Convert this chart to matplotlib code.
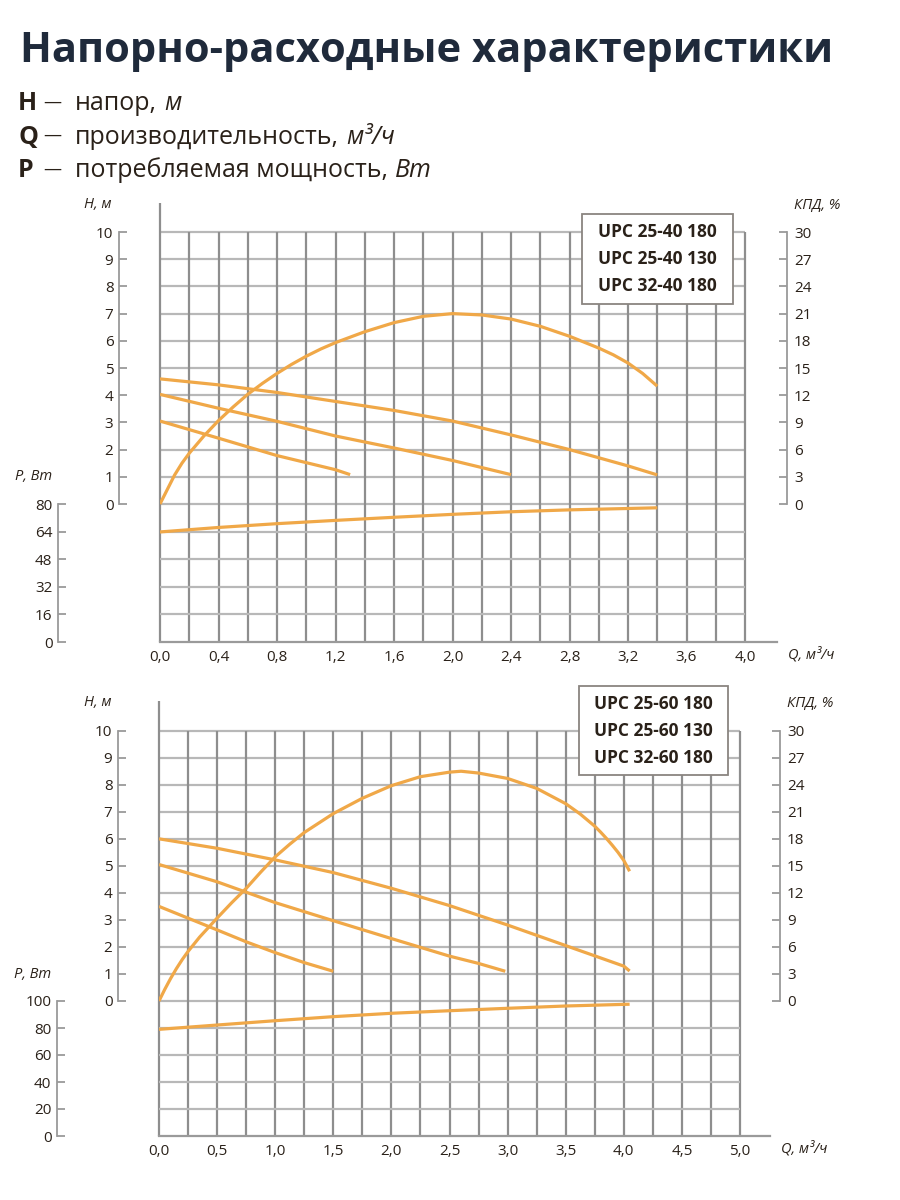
# -*- coding: utf-8 -*-
import numpy as np
import matplotlib
matplotlib.use('Agg')
import matplotlib.pyplot as plt
from matplotlib.patches import Rectangle

plt.rcParams['font.family'] = ['Open Sans', 'DejaVu Sans']

# ---------- data ----------
# chart 1: UPC 25-40 / 32-40
top_models = ['UPC 25-40 180', 'UPC 25-40 130', 'UPC 32-40 180']
top_q_h1 = [0.0, 0.4, 0.8, 1.2, 1.6, 2.0, 2.4, 2.8, 3.2, 3.4]
top_h1 = [4.6, 4.38, 4.1, 3.77, 3.44, 3.05, 2.54, 2.0, 1.4, 1.07]
top_q_h2 = [0.0, 0.4, 0.8, 1.2, 1.6, 2.0, 2.4]
top_h2 = [4.03, 3.52, 3.04, 2.5, 2.06, 1.6, 1.08]
top_q_h3 = [0.0, 0.4, 0.8, 1.2, 1.3]
top_h3 = [3.05, 2.42, 1.78, 1.26, 1.08]
top_q_kpd = [0.0, 0.05, 0.1, 0.15, 0.2, 0.3, 0.4, 0.5, 0.6, 0.7, 0.8, 0.9, 1.0, 1.1, 1.2,
             1.4, 1.6, 1.8, 2.0, 2.2, 2.4, 2.6, 2.8, 3.0, 3.1, 3.2, 3.3, 3.4]
top_kpd = [0.0, 1.6, 3.2, 4.5, 5.6, 7.5, 9.2, 10.7, 12.1, 13.3, 14.4, 15.4, 16.3, 17.1, 17.8,
           19.0, 20.0, 20.7, 21.0, 20.85, 20.4, 19.6, 18.5, 17.2, 16.45, 15.55, 14.4, 13.0]
top_q_p = [0.0, 0.4, 0.8, 1.2, 1.6, 2.0, 2.4, 2.8, 3.2, 3.4]
top_p = [63.8, 66.4, 68.6, 70.5, 72.3, 74.0, 75.5, 76.6, 77.4, 77.8]

# chart 2: UPC 25-60 / 32-60
bot_models = ['UPC 25-60 180', 'UPC 25-60 130', 'UPC 32-60 180']
bot_q_h1 = [0.0, 0.5, 1.0, 1.5, 2.0, 2.5, 3.0, 3.5, 4.0, 4.05]
bot_h1 = [6.0, 5.65, 5.22, 4.75, 4.17, 3.53, 2.81, 2.05, 1.29, 1.11]
bot_q_h2 = [0.0, 0.5, 1.0, 1.5, 2.0, 2.5, 2.75, 2.98]
bot_h2 = [5.05, 4.41, 3.64, 2.97, 2.31, 1.66, 1.39, 1.1]
bot_q_h3 = [0.0, 0.5, 0.75, 1.0, 1.25, 1.5]
bot_h3 = [3.5, 2.63, 2.19, 1.79, 1.42, 1.1]
bot_q_kpd = [0.0, 0.05, 0.1, 0.15, 0.2, 0.25, 0.35, 0.5, 0.625, 0.75, 0.875, 1.0, 1.125, 1.25,
             1.5, 1.75, 2.0, 2.25, 2.5, 2.6, 2.75, 3.0, 3.25, 3.5, 3.625, 3.75, 3.8, 3.85,
             3.9, 3.95, 4.0, 4.05]
bot_kpd = [0.0, 1.3, 2.5, 3.6, 4.6, 5.5, 7.1, 9.2, 10.9, 12.5, 14.3, 16.0, 17.4, 18.7,
           20.8, 22.5, 23.9, 24.9, 25.4, 25.5, 25.3, 24.7, 23.6, 21.9, 20.75, 19.4, 18.75, 18.05,
           17.3, 16.5, 15.6, 14.4]
bot_q_p = [0.0, 0.5, 1.0, 1.5, 2.0, 2.5, 3.0, 3.5, 4.0, 4.05]
bot_p = [79.0, 82.2, 85.4, 88.4, 90.9, 92.8, 94.6, 96.3, 97.5, 97.6]

# symbols legend under the title
sym_rows = [('H', 'напор,', 'м'),
            ('Q', 'производительность,', 'м³/ч'),
            ('P', 'потребляемая мощность,', 'Вт')]

# ---------- style ----------
W, H = 900, 1200
CURVE = '#f0a848'
VGRID = '#8e8e8e'
HGRID = '#b8b8b8'
SPINE = '#9a9a9a'
TXT = '#2a2119'
NAVY = '#1f2a3b'
PT = 0.72  # px -> pt at dpi 100

fig = plt.figure(figsize=(9, 12), dpi=100)
renderer = fig.canvas.get_renderer()


def fx(x):
    return x / W


def fy(y):
    return 1 - y / H


def chain(x, y, parts):
    # put pieces of text one after another on the same baseline
    for s, kw, gap in parts:
        t = fig.text(fx(x), fy(y), s, va='baseline', ha='left', color=TXT, **kw)
        bb = t.get_window_extent(renderer=renderer)
        x = x + bb.width + gap


# title + legend of symbols
fig.text(fx(20), fy(62), 'Напорно-расходные характеристики', fontsize=30,
         fontweight='bold', color=NAVY, va='baseline')
FS = 18
for i, (sym, desc, unit) in enumerate(sym_rows):
    y = 110 + 33.5 * i
    fig.text(fx(18), fy(y), sym, fontsize=FS, fontweight='bold', color=TXT, va='baseline')
    fig.text(fx(43), fy(y - 2.5), '—', fontsize=13, color=TXT, va='baseline')
    chain(75, y, [(desc, dict(fontsize=FS), 7), (unit, dict(fontsize=FS, style='italic'), 0)])


def draw_chart(g, q_max, q_step, q_lab_step, p_max, heads, kq, kv, pq, pv, models):
    x0, xend, ppq = g['x0'], g['xend'], g['ppq']
    yh0, pph, ytop, ybot = g['yh0'], g['pph'], g['ytop'], g['ybot']

    ax = fig.add_axes([fx(x0), fy(ybot), (xend - x0) / W, (ybot - ytop) / H])
    xlim = (0, (xend - x0) / ppq)
    ylim = ((yh0 - ybot) / pph, (yh0 - ytop) / pph)
    ax.set_xlim(xlim)
    ax.set_ylim(ylim)
    ax.patch.set_alpha(0)

    # power and efficiency share the grid
    axp = ax.twinx()
    axp.set_ylim(0, p_max * (ybot - ytop) / (ybot - yh0))
    axk = ax.twinx()
    axk.set_ylim(ylim[0] * 3, ylim[1] * 3)

    # grid
    qs = np.arange(0, q_max + 1e-9, q_step)
    ax.vlines(qs[1:], ylim[0], 10, color=VGRID, lw=1.6, zorder=1)
    ax.vlines(0, ylim[0], ylim[1], color=VGRID, lw=1.6, zorder=1, clip_on=False)
    ax.hlines(np.arange(0, 11), 0, q_max, color=HGRID, lw=1.6, zorder=0.9)
    axp.hlines(np.arange(p_max / 5, p_max, p_max / 5), 0, q_max, color=HGRID, lw=1.6, zorder=0.9)

    # curves
    st = dict(color=CURVE, lw=2.3, zorder=3, solid_capstyle='butt', solid_joinstyle='round')
    for q, h in heads:
        ax.plot(q, h, **st)
    axk.plot(kq, kv, **st)
    axp.plot(pq, pv, **st)

    # H axis
    for s in ['top', 'right']:
        ax.spines[s].set_visible(False)
    ax.spines['left'].set_position(('axes', (g['hx'] - x0) / (xend - x0)))
    ax.spines['left'].set_bounds(0, 10)
    ax.spines['left'].set_color(SPINE)
    ax.spines['left'].set_linewidth(1.3)
    ax.set_yticks(range(0, 11))
    ax.tick_params(axis='y', direction='in', length=8 * PT, width=1.3, color=SPINE,
                   labelcolor=TXT, labelsize=11, pad=4)
    ax.spines['bottom'].set_color(SPINE)
    ax.spines['bottom'].set_linewidth(1.6)
    ax.spines['bottom'].set_bounds(xlim)
    labs = np.arange(0, q_max + 1e-9, q_lab_step)
    ax.set_xticks(labs)
    ax.set_xticklabels([('%.1f' % v).replace('.', ',') for v in labs])
    ax.tick_params(axis='x', length=0, labelcolor=TXT, labelsize=11, pad=6)

    # P axis
    for s in ['top', 'right', 'bottom']:
        axp.spines[s].set_visible(False)
    axp.spines['left'].set_visible(True)
    axp.spines['left'].set_position(('axes', (g['px'] - x0) / (xend - x0)))
    axp.spines['left'].set_bounds(0, p_max)
    axp.spines['left'].set_color(SPINE)
    axp.spines['left'].set_linewidth(1.3)
    axp.yaxis.set_ticks_position('left')
    axp.set_yticks(np.arange(0, p_max + 1, p_max / 5))
    axp.set_yticklabels(['%d' % v for v in np.arange(0, p_max + 1, p_max / 5)])
    axp.tick_params(axis='y', direction='in', length=8 * PT, width=1.3, color=SPINE,
                    labelcolor=TXT, labelsize=11, pad=4)

    # efficiency axis
    for s in ['top', 'left', 'bottom']:
        axk.spines[s].set_visible(False)
    axk.spines['right'].set_position(('axes', (g['kx'] - x0) / (xend - x0)))
    axk.spines['right'].set_bounds(0, 30)
    axk.spines['right'].set_color(SPINE)
    axk.spines['right'].set_linewidth(1.3)
    axk.set_yticks(range(0, 31, 3))
    axk.tick_params(axis='y', direction='in', length=8 * PT, width=1.3, color=SPINE,
                    labelcolor=TXT, labelsize=11, pad=5)

    # axis names
    fig.text(fx(g['hx'] - 7), fy(ytop + 1), 'H, м', ha='right', va='center',
             fontsize=10.5, style='italic', color=TXT)
    fig.text(fx(g['px'] - 6), fy(yh0 - 27), 'P, Вт', ha='right', va='center',
             fontsize=10.5, style='italic', color=TXT)
    fig.text(fx(g['kx'] + 7), fy(ytop + 2), 'КПД, %', ha='left', va='center',
             fontsize=10.5, style='italic', color=TXT)
    fig.text(fx(xend + 11), fy(ybot + 13), 'Q, м³/ч', ha='left', va='center',
             fontsize=10.5, style='italic', color=TXT)

    # model box
    bx0, by0, bx1, by1 = g['box']
    fig.patches.append(Rectangle((fx(bx0), fy(by1)), (bx1 - bx0) / W, (by1 - by0) / H,
                                 transform=fig.transFigure, facecolor='white',
                                 edgecolor='#8a8580', lw=1.3, zorder=5))
    for i, m in enumerate(models):
        fig.text(fx((bx0 + bx1) / 2), fy(by0 + 18 + 27 * i), m, ha='center', va='center',
                 fontsize=12.5, fontweight='bold', color=TXT, zorder=6)


g_top = dict(x0=160, xend=777, ppq=146.25, yh0=504, pph=27.2, ytop=203, ybot=642,
             hx=119, px=58, kx=787, box=(582, 214, 733, 304))
g_bot = dict(x0=159, xend=770, ppq=116.2, yh0=1001, pph=27.03, ytop=701, ybot=1136,
             hx=118, px=57, kx=780, box=(579, 686, 728, 775))

draw_chart(g_top, 4.0, 0.2, 0.4, 80,
           [(top_q_h1, top_h1), (top_q_h2, top_h2), (top_q_h3, top_h3)],
           top_q_kpd, top_kpd, top_q_p, top_p, top_models)
draw_chart(g_bot, 5.0, 0.25, 0.5, 100,
           [(bot_q_h1, bot_h1), (bot_q_h2, bot_h2), (bot_q_h3, bot_h3)],
           bot_q_kpd, bot_kpd, bot_q_p, bot_p, bot_models)

fig.savefig('out.png', dpi=100)
